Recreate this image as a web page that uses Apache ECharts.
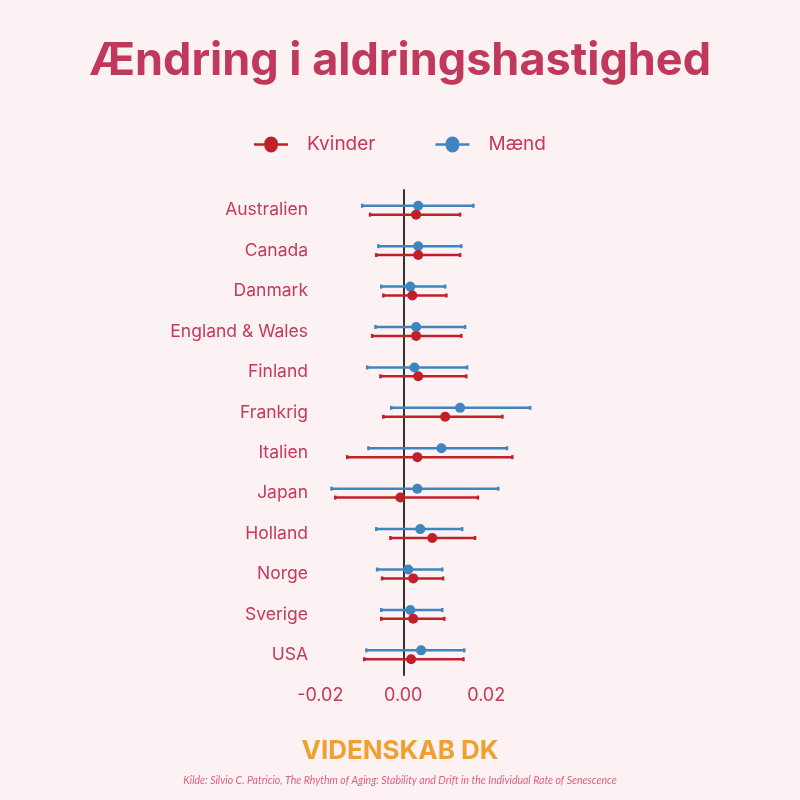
<!DOCTYPE html><html><head><meta charset="utf-8"><script src="https://cdn.jsdelivr.net/npm/echarts@6/dist/echarts.min.js"></script>
<style>html,body{margin:0;background:#fcf1f3}#c{width:800px;height:800px}</style></head><body><div id="c"></div><script>
const categories=['Australien','Canada','Danmark','England & Wales','Finland','Frankrig','Italien','Japan','Holland','Norge','Sverige','USA'];
const womenPt=[0.0031,0.0036,0.0022,0.0031,0.0036,0.0101,0.0034,-0.0007,0.0070,0.0024,0.0024,0.0019];
const womenLo=[-0.0080,-0.0065,-0.0048,-0.0075,-0.0055,-0.0048,-0.0135,-0.0164,-0.0031,-0.0051,-0.0053,-0.0094];
const womenHi=[0.0137,0.0137,0.0104,0.0140,0.0152,0.0239,0.0263,0.0180,0.0173,0.0096,0.0099,0.0145];
const menPt=[0.0036,0.0036,0.0017,0.0031,0.0027,0.0137,0.0092,0.0034,0.0041,0.0012,0.0017,0.0043];
const menLo=[-0.0099,-0.0060,-0.0053,-0.0067,-0.0087,-0.0029,-0.0084,-0.0173,-0.0065,-0.0063,-0.0053,-0.0089];
const menHi=[0.0169,0.0140,0.0101,0.0149,0.0154,0.0306,0.0250,0.0229,0.0142,0.0094,0.0094,0.0147];
const xTicks=[-0.02,0,0.02];
const RED='#c0202a',BLUE='#3f86c0',PINK='#c8385a';
function mk(pt,lo,hi){return categories.map((c,i)=>[i,lo[i],hi[i],pt[i]]);}
function render(off,color){return function(params,api){
  const i=api.value(0),bw=api.size([0,1])[1];
  const a=api.coord([api.value(1),i]),b=api.coord([api.value(2),i]),p=api.coord([api.value(3),i]);
  const y=a[1]+off*bw;
  return {type:'group',children:[
   {type:'line',shape:{x1:a[0],y1:y,x2:b[0],y2:y},style:{stroke:color,lineWidth:2.5}},
   {type:'line',shape:{x1:a[0],y1:y-2,x2:a[0],y2:y+2},style:{stroke:color,lineWidth:2.5}},
   {type:'line',shape:{x1:b[0],y1:y-2,x2:b[0],y2:y+2},style:{stroke:color,lineWidth:2.5}},
   {type:'circle',shape:{cx:p[0],cy:y,r:5},style:{fill:color}}]};};}
const icon='path://M0,9h9a6,6 0 1,1 12,0h9v2h-9a6,6 0 1,1 -12,0h-9z';
echarts.init(document.getElementById('c')).setOption({
 backgroundColor:'#fcf1f3',animation:false,
 title:[{text:'Ændring i aldringshastighed',left:'center',top:34,textStyle:{fontFamily:'Inter',fontWeight:'bold',fontSize:45,color:'#c0395a'}},
  {text:'VIDENSKAB DK',left:'center',top:733,textStyle:{fontFamily:'Inter',fontWeight:'bold',fontSize:26,color:'#f0a030'}},
  {text:'Kilde: Silvio C. Patricio, The Rhythm of Aging: Stability and Drift in the Individual Rate of Senescence',left:'center',top:770,textStyle:{fontFamily:'Lato',fontStyle:'italic',fontWeight:'normal',fontSize:10.5,color:'#e06080'}}],
 legend:{top:130,left:'center',itemGap:60,itemWidth:34,itemHeight:16,textStyle:{fontSize:19,color:PINK,fontFamily:'Inter',padding:[0,0,0,14]},
  data:[{name:'Kvinder',icon:icon,itemStyle:{color:RED}},{name:'Mænd',icon:icon,itemStyle:{color:BLUE}}]},
 grid:{left:312,right:264,top:190,bottom:125},
 xAxis:{type:'value',min:-0.022,max:0.032,splitLine:{show:false},axisLine:{show:false},axisTick:{show:false},
  axisLabel:{customValues:xTicks,formatter:v=>v.toFixed(2),fontSize:18,color:PINK,fontFamily:'Inter',margin:12}},
 yAxis:{type:'category',data:categories,inverse:true,axisLine:{onZero:true,lineStyle:{color:'#333',width:2}},axisTick:{show:false},
  axisLabel:{fontSize:17.5,color:PINK,fontFamily:'Inter',margin:4,position:'left'}},
 series:[{name:'Mænd',type:'custom',renderItem:render(-0.11,BLUE),data:mk(menPt,menLo,menHi),encode:{x:[1,2,3],y:0},itemStyle:{color:BLUE}},
  {name:'Kvinder',type:'custom',renderItem:render(0.11,RED),data:mk(womenPt,womenLo,womenHi),encode:{x:[1,2,3],y:0},itemStyle:{color:RED}}]
});
</script></body></html>
